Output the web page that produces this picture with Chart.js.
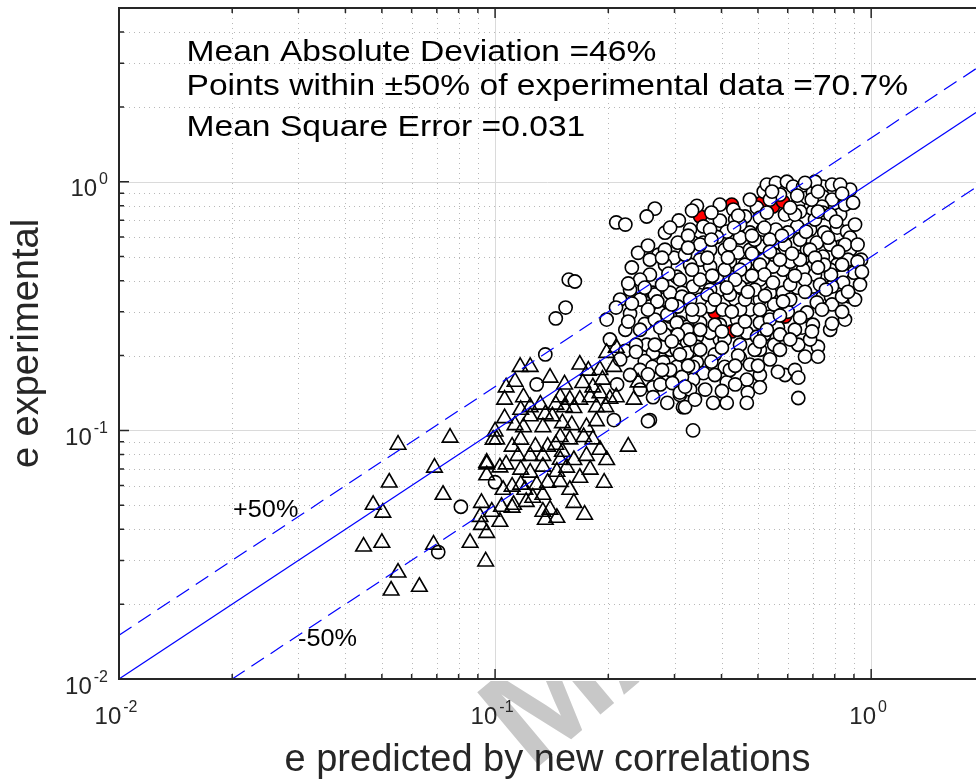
<!DOCTYPE html>
<html>
<head>
<meta charset="utf-8">
<title>e experimental vs e predicted</title>
<script src="https://cdn.jsdelivr.net/npm/chart.js@4.4.1/dist/chart.umd.min.js"></script>
<style>
  html, body { margin: 0; padding: 0; background: #fff; overflow: hidden; }
  canvas { display: block; }
</style>
</head>
<body>
<canvas id="chart" width="976" height="784"></canvas>
<script>
// axis ranges and ticks
const xRange = [0.01, 1.9];
const yRange = [0.01, 5];
const xTickValues = [0.01, 0.1, 1];
const yTickValues = [0.01, 0.1, 1];
const tickExponents = ['-2', '-1', '0'];
const xMinorValues = [0.02, 0.03, 0.04, 0.05, 0.06, 0.07, 0.08, 0.09, 0.2, 0.3, 0.4, 0.5, 0.6, 0.7, 0.8, 0.9];
const yMinorValues = [0.02, 0.03, 0.04, 0.05, 0.06, 0.07, 0.08, 0.09, 0.2, 0.3, 0.4, 0.5, 0.6, 0.7, 0.8, 0.9, 2, 3, 4];

// text
const xTitle = 'e predicted by new correlations';
const yTitle = 'e experimental';
const statsLines = [
  'Mean Absolute Deviation =46%',
  'Points within \u00b150% of experimental data =70.7%',
  'Mean Square Error =0.031',
];
const bandLabels = ['+50%', '-50%'];

// reference lines (e_exp = e_pred, +50%, -50%)
const perfectLine = [[0.01, 0.01], [1.9, 1.9]];
const plusLine = [[0.01, 0.015], [1.9, 2.85]];
const minusLine = [[0.02, 0.01], [1.9, 0.95]];

// [e predicted, e experimental]
const triangles = [
  [0.198, 0.205], [0.21, 0.215], [0.207, 0.18], [0.177, 0.174], [0.193, 0.16], [0.171, 0.155],
  [0.182, 0.149], [0.1166, 0.18], [0.124, 0.18], [0.113, 0.157], [0.107, 0.149], [0.14, 0.163],
  [0.119, 0.136], [0.124, 0.124], [0.132, 0.127], [0.149, 0.136], [0.158, 0.133], [0.168, 0.133],
  [0.179, 0.136], [0.19, 0.141], [0.202, 0.134], [0.21, 0.136], [0.234, 0.133], [0.24, 0.156],
  [0.106, 0.112], [0.1, 0.099], [0.101, 0.092], [0.113, 0.105], [0.119, 0.103], [0.124, 0.114],
  [0.134, 0.103], [0.142, 0.114], [0.151, 0.107], [0.16, 0.105], [0.175, 0.103], [0.186, 0.109],
  [0.149, 0.094], [0.158, 0.092], [0.172, 0.094], [0.182, 0.092], [0.111, 0.086], [0.128, 0.086],
  [0.138, 0.086], [0.134, 0.079], [0.124, 0.079], [0.115, 0.079], [0.151, 0.082], [0.162, 0.076],
  [0.175, 0.079], [0.198, 0.076], [0.226, 0.086], [0.095, 0.073], [0.103, 0.071], [0.095, 0.066],
  [0.107, 0.073], [0.117, 0.0695], [0.124, 0.0676], [0.134, 0.0715], [0.146, 0.0682], [0.155, 0.0708],
  [0.168, 0.0645], [0.149, 0.0621], [0.138, 0.0616], [0.129, 0.0605], [0.117, 0.0605], [0.111, 0.0594],
  [0.105, 0.0577], [0.158, 0.0577], [0.195, 0.0616], [0.134, 0.0551], [0.126, 0.0536], [0.121, 0.0516],
  [0.111, 0.0489], [0.104, 0.0493], [0.098, 0.0471], [0.092, 0.0511], [0.0912, 0.0449], [0.092, 0.0417],
  [0.095, 0.0387], [0.103, 0.0429], [0.112, 0.0502], [0.134, 0.0471], [0.14, 0.048], [0.146, 0.0445],
  [0.136, 0.0437], [0.162, 0.0511], [0.173, 0.0458], [0.0858, 0.0353], [0.0686, 0.0347], [0.0759, 0.0935],
  [0.0552, 0.0876], [0.069, 0.0708], [0.0523, 0.0617], [0.0727, 0.0551], [0.0474, 0.0502], [0.0503, 0.0467],
  [0.0447, 0.0341], [0.05, 0.0353], [0.0552, 0.0268], [0.0529, 0.0227], [0.0629, 0.0235], [0.0944, 0.0297],
  [0.0988, 0.0918], [0.095, 0.0742], [0.145, 0.127], [0.153, 0.124], [0.162, 0.123], [0.186, 0.124],
  [0.197, 0.124], [0.136, 0.116], [0.117, 0.121], [0.106, 0.133], [0.153, 0.153], [0.19, 0.175],
  [0.168, 0.184], [0.145, 0.0876], [0.19, 0.0836], [0.117, 0.0918], [0.12, 0.0577], [0.149, 0.0762],
  [0.179, 0.0695],
];

const openCircles = [
  [0.266, 0.78], [0.344, 0.80], [0.334, 0.766], [0.308, 0.699], [0.283, 0.624], [0.306, 0.569],
  [0.336, 0.569], [0.272, 0.509], [0.299, 0.495], [0.258, 0.423], [0.304, 0.415], [0.358, 0.661],
  [0.396, 0.698], [0.43, 0.773], [0.435, 0.705], [0.462, 0.725], [0.497, 0.787], [0.518, 0.913],
  [0.528, 0.974], [0.558, 0.99], [0.572, 0.888], [0.597, 1.0], [0.62, 0.956], [0.659, 0.956],
  [0.64, 0.824], [0.675, 0.864], [0.70, 0.905], [0.744, 0.956], [0.787, 0.974], [0.744, 0.872],
  [0.787, 0.848], [0.74, 0.795], [0.744, 0.752], [0.70, 0.759], [0.667, 0.705], [0.636, 0.661],
  [0.60, 0.625], [0.558, 0.642], [0.515, 0.642], [0.476, 0.625], [0.448, 0.596], [0.413, 0.63],
  [0.389, 0.60], [0.358, 0.569], [0.351, 0.486], [0.373, 0.456], [0.421, 0.477], [0.443, 0.519],
  [0.476, 0.533], [0.515, 0.548], [0.558, 0.569], [0.59, 0.533], [0.636, 0.50], [0.675, 0.533],
  [0.717, 0.569], [0.75, 0.625], [0.812, 0.654], [0.863, 0.63], [0.879, 0.596], [0.827, 0.548],
  [0.879, 0.533], [0.827, 0.486], [0.868, 0.486], [0.90, 0.431], [0.837, 0.431], [0.812, 0.464],
  [0.744, 0.50], [0.70, 0.456], [0.659, 0.443], [0.62, 0.415], [0.583, 0.443], [0.548, 0.456],
  [0.515, 0.486], [0.497, 0.443], [0.467, 0.415], [0.448, 0.379], [0.421, 0.415], [0.389, 0.415],
  [0.358, 0.393], [0.336, 0.379], [0.314, 0.358], [0.296, 0.345], [0.28, 0.336], [0.263, 0.358],
  [0.258, 0.315], [0.275, 0.298], [0.292, 0.287], [0.31, 0.271], [0.324, 0.261], [0.351, 0.271],
  [0.373, 0.315], [0.403, 0.306], [0.44, 0.279], [0.476, 0.306], [0.506, 0.336], [0.538, 0.358],
  [0.583, 0.358], [0.636, 0.375], [0.70, 0.379], [0.744, 0.345], [0.782, 0.345], [0.879, 0.345],
  [0.842, 0.393], [0.787, 0.379], [0.717, 0.327], [0.675, 0.298], [0.60, 0.30], [0.565, 0.259],
  [0.538, 0.287], [0.506, 0.271], [0.467, 0.247], [0.44, 0.254], [0.396, 0.232], [0.373, 0.247],
  [0.344, 0.238], [0.324, 0.225], [0.292, 0.211], [0.263, 0.198], [0.28, 0.188], [0.304, 0.18],
  [0.289, 0.16], [0.263, 0.149], [0.287, 0.129], [0.316, 0.124], [0.31, 0.139], [0.344, 0.188],
  [0.358, 0.17], [0.336, 0.16], [0.38, 0.129], [0.413, 0.129], [0.413, 0.156], [0.408, 0.18],
  [0.448, 0.195], [0.476, 0.184], [0.467, 0.16], [0.47, 0.142], [0.467, 0.129], [0.497, 0.238],
  [0.336, 0.1], [0.258, 0.11], [0.64, 0.221], [0.667, 0.198], [0.722, 0.217], [0.722, 0.198],
  [0.59, 0.167], [0.627, 0.175], [0.64, 0.163], [0.64, 0.135], [0.655, 0.259], [0.70, 0.266],
  [0.787, 0.321], [0.837, 0.345], [0.21, 0.686], [0.222, 0.673], [0.253, 0.725], [0.24, 0.518],
  [0.157, 0.404], [0.163, 0.397], [0.154, 0.312], [0.145, 0.282], [0.2285, 0.295], [0.25, 0.268],
  [0.266, 0.352], [0.27, 0.33], [0.136, 0.202], [0.222, 0.209], [0.129, 0.153], [0.211, 0.153],
  [0.253, 0.221], [0.263, 0.205], [0.25, 0.19], [0.262, 0.18], [0.243, 0.175], [0.275, 0.153],
  [0.263, 0.136], [0.32, 0.124], [0.255, 0.109], [0.207, 0.11], [0.287, 0.292], [0.304, 0.271],
  [0.324, 0.254], [0.336, 0.287], [0.296, 0.238], [0.28, 0.217], [0.304, 0.211], [0.324, 0.205],
  [0.344, 0.217], [0.336, 0.18], [0.314, 0.164], [0.296, 0.155], [0.31, 0.142], [0.33, 0.146],
  [0.292, 0.358], [0.314, 0.345], [0.306, 0.315], [0.1, 0.0619], [0.0811, 0.0493], [0.0706, 0.0324],
  [0.506, 0.404], [0.609, 0.477], [0.709, 0.423], [0.778, 0.443], [0.396, 0.368], [0.435, 0.336],
  [0.351, 0.336], [0.538, 0.585], [0.647, 0.585], [0.688, 0.642], [0.59, 0.738], [0.506, 0.718],
  [0.462, 0.464], [0.408, 0.533], [0.33, 0.464], [0.31, 0.404], [0.283, 0.464], [0.373, 0.533],
  [0.49, 0.368], [0.609, 0.336], [0.396, 0.266], [0.448, 0.306], [0.552, 0.221], [0.506, 0.211],
  [0.384, 0.202], [0.421, 0.175], [0.33, 0.232], [0.695, 0.848], [0.647, 0.759], [0.52, 0.654],
  [0.827, 0.738], [0.852, 0.559], [0.778, 0.559], [0.552, 0.509], [0.506, 0.464],
  [0.538, 0.279], [0.572, 0.243], [0.627, 0.254], [0.688, 0.232], [0.778, 0.254], [0.852, 0.279],
  [0.906, 0.336], [0.934, 0.386], [0.94, 0.486], [0.92, 0.559], [0.906, 0.673], [0.852, 0.809],
  [0.879, 0.93], [0.827, 0.974], [0.709, 1.0], [0.667, 0.99], [0.538, 0.848], [0.476, 0.848],
  [0.396, 0.809], [0.373, 0.642], [0.33, 0.642], [0.283, 0.533], [0.258, 0.486], [0.243, 0.404],
  [0.2285, 0.368], [0.215, 0.336], [0.243, 0.336], [0.222, 0.254], [0.202, 0.232], [0.198, 0.279],
  [0.237, 0.221], [0.215, 0.193], [0.2285, 0.167], [0.243, 0.146], [0.373, 0.368], [0.421, 0.352],
  [0.462, 0.336], [0.552, 0.321], [0.609, 0.386], [0.667, 0.404], [0.731, 0.386], [0.782, 0.423],
  [0.75, 0.464], [0.647, 0.486], [0.572, 0.486], [0.52, 0.423], [0.448, 0.443], [0.408, 0.443],
  [0.351, 0.404], [0.33, 0.336], [0.351, 0.306], [0.384, 0.266], [0.408, 0.232], [0.448, 0.221],
  [0.52, 0.243], [0.49, 0.211], [0.538, 0.193], [0.506, 0.167], [0.435, 0.153], [0.362, 0.146],
  [0.34, 0.133], [0.384, 0.167], [0.31, 0.202], [0.283, 0.243], [0.266, 0.279], [0.292, 0.175],
  [0.59, 0.559], [0.688, 0.533], [0.627, 0.738], [0.709, 0.705], [0.778, 0.738], [0.448, 0.673],
  [0.49, 0.585], [0.421, 0.559], [0.351, 0.559], [0.32, 0.509],
  [0.545, 0.913], [0.636, 0.88], [0.722, 0.913], [0.837, 0.896], [0.895, 0.824],
  [0.376, 0.752], [0.443, 0.731], [0.528, 0.752], [0.609, 0.787], [0.722, 0.759], [0.807, 0.692],
  [0.292, 0.654], [0.326, 0.607], [0.376, 0.585], [0.432, 0.654], [0.482, 0.607], [0.579, 0.607],
  [0.671, 0.63], [0.768, 0.596], [0.255, 0.554], [0.278, 0.495], [0.326, 0.543], [0.367, 0.495],
  [0.416, 0.495], [0.482, 0.514], [0.538, 0.523], [0.616, 0.514], [0.709, 0.495], [0.817, 0.523],
  [0.92, 0.477], [0.231, 0.452], [0.289, 0.427], [0.334, 0.443], [0.378, 0.419], [0.435, 0.404],
  [0.482, 0.419], [0.548, 0.393], [0.627, 0.419], [0.722, 0.452], [0.837, 0.464], [0.945, 0.434],
  [0.226, 0.39], [0.25, 0.375], [0.278, 0.386], [0.367, 0.352], [0.413, 0.375], [0.47, 0.361],
  [0.522, 0.348], [0.583, 0.33], [0.667, 0.361], [0.758, 0.368], [0.868, 0.361], [0.2097, 0.312],
  [0.231, 0.324], [0.255, 0.306], [0.295, 0.321], [0.334, 0.306], [0.384, 0.336], [0.426, 0.30],
  [0.506, 0.306], [0.572, 0.29], [0.647, 0.284], [0.74, 0.306], [0.837, 0.30], [0.226, 0.274],
  [0.243, 0.254], [0.275, 0.259], [0.306, 0.243], [0.351, 0.254], [0.401, 0.25], [0.462, 0.274],
  [0.528, 0.254], [0.609, 0.232], [0.696, 0.25], [0.787, 0.269], [0.237, 0.207], [0.266, 0.221],
  [0.295, 0.228], [0.351, 0.211], [0.401, 0.215], [0.443, 0.20], [0.506, 0.228], [0.572, 0.211],
  [0.255, 0.168], [0.278, 0.175], [0.326, 0.182], [0.376, 0.189], [0.435, 0.182], [0.5, 0.182],
  [0.565, 0.172], [0.32, 0.15], [0.401, 0.144], [0.506, 0.149],
];

const redCircles = [
  [0.59, 0.287], [0.351, 0.725], [0.426, 0.809], [0.512, 0.824], [0.548, 0.795],
  [0.583, 0.832], [0.426, 0.25], [0.384, 0.298],
];

const fontFamily = '"Liberation Sans", Arial, Helvetica, sans-serif';
const axisColor = '#262626';

const toPoints = (rows) => rows.map(([x, y]) => ({ x, y }));

function stretchText(ctx, text, x, y, sx) {
  ctx.save();
  ctx.translate(x, y);
  ctx.scale(sx, 1);
  ctx.fillText(text, 0, 0);
  ctx.restore();
}

function drawPower(ctx, exp, anchorX, baseY, align) {
  ctx.font = `24px ${fontFamily}`;
  const wBase = ctx.measureText('10').width;
  ctx.font = `16px ${fontFamily}`;
  const wExp = ctx.measureText(exp).width;
  const total = wBase + 2 + wExp;
  const left = align === 'center' ? anchorX - total / 2 - 3 : anchorX - total;
  ctx.font = `24px ${fontFamily}`;
  ctx.fillText('10', left, baseY);
  ctx.font = `16px ${fontFamily}`;
  ctx.fillText(exp, left + wBase + 2, baseY - 12);
}

const matlabAxes = {
  id: 'matlabAxes',
  beforeDraw(chart) {
    // faint journal watermark below the axes
    const { ctx, chartArea: a } = chart;
    ctx.save();
    ctx.beginPath();
    ctx.rect(0, a.bottom + 2, chart.width, chart.height);
    ctx.clip();
    ctx.translate(532, 772);
    ctx.rotate(-40 * Math.PI / 180);
    ctx.font = `bold 140px ${fontFamily}`;
    ctx.fillStyle = '#c8c8c8';
    ctx.fillText('MA', 0, 0);
    ctx.restore();
  },
  beforeDatasetsDraw(chart) {
    const { ctx, chartArea: a, scales: { x, y } } = chart;
    ctx.save();
    ctx.lineWidth = 1;
    ctx.strokeStyle = '#b8b8b8';
    ctx.setLineDash([1, 4]);
    ctx.beginPath();
    xMinorValues.forEach((v) => {
      const px = Math.round(x.getPixelForValue(v)) + 0.5;
      ctx.moveTo(px, a.top);
      ctx.lineTo(px, a.bottom);
    });
    yMinorValues.forEach((v) => {
      const py = Math.round(y.getPixelForValue(v)) + 0.5;
      ctx.moveTo(a.left, py);
      ctx.lineTo(a.right, py);
    });
    ctx.stroke();
    ctx.setLineDash([]);
    ctx.strokeStyle = '#dadada';
    ctx.beginPath();
    xTickValues.forEach((v) => {
      const px = Math.round(x.getPixelForValue(v)) + 0.5;
      ctx.moveTo(px, a.top);
      ctx.lineTo(px, a.bottom);
    });
    yTickValues.forEach((v) => {
      const py = Math.round(y.getPixelForValue(v)) + 0.5;
      ctx.moveTo(a.left, py);
      ctx.lineTo(a.right, py);
    });
    ctx.stroke();
    ctx.restore();
  },
  afterDatasetsDraw(chart) {
    const { ctx, chartArea: a, scales: { x, y } } = chart;
    ctx.save();
    ctx.strokeStyle = axisColor;
    ctx.lineWidth = 1.5;
    ctx.beginPath();
    const xTick = (v, len) => {
      const px = x.getPixelForValue(v);
      ctx.moveTo(px, a.bottom);
      ctx.lineTo(px, a.bottom - len);
      ctx.moveTo(px, a.top);
      ctx.lineTo(px, a.top + len);
    };
    const yTick = (v, len) => {
      const py = y.getPixelForValue(v);
      ctx.moveTo(a.left, py);
      ctx.lineTo(a.left + len, py);
    };
    xTickValues.forEach((v) => xTick(v, 10));
    xMinorValues.forEach((v) => xTick(v, 5));
    yTickValues.forEach((v) => yTick(v, 10));
    yMinorValues.forEach((v) => yTick(v, 5));
    ctx.stroke();

    ctx.lineWidth = 2;
    ctx.beginPath();
    ctx.moveTo(a.right, a.top);
    ctx.lineTo(a.left, a.top);
    ctx.lineTo(a.left, a.bottom);
    ctx.lineTo(a.right, a.bottom);
    ctx.stroke();

    // tick labels 10^n
    ctx.fillStyle = axisColor;
    ctx.textBaseline = 'alphabetic';
    ctx.textAlign = 'left';
    xTickValues.forEach((v, i) => {
      drawPower(ctx, tickExponents[i], x.getPixelForValue(v), a.bottom + 45, 'center');
    });
    yTickValues.forEach((v, i) => {
      drawPower(ctx, tickExponents[i], a.left - 11, y.getPixelForValue(v) + 14.5, 'right');
    });

    // statistics and band labels
    ctx.fillStyle = '#000';
    ctx.font = `30px ${fontFamily}`;
    const statBase = [61, 95, 136];
    statsLines.forEach((t, i) => stretchText(ctx, t, 186.5, statBase[i], 1.12));
    ctx.font = `23px ${fontFamily}`;
    stretchText(ctx, bandLabels[0], 233, 517, 1.1);
    stretchText(ctx, bandLabels[1], 298, 646, 1.1);
    ctx.restore();
  },
};

const refLine = (rows, dash) => ({
  data: toPoints(rows),
  showLine: true,
  borderColor: '#0000ff',
  borderWidth: 1.2,
  borderDash: dash,
  pointRadius: 0,
  fill: false,
});

new Chart(document.getElementById('chart'), {
  type: 'scatter',
  data: {
    datasets: [
      refLine(perfectLine, []),
      refLine(plusLine, [15, 8]),
      refLine(minusLine, [15, 8]),
      {
        data: toPoints(triangles),
        pointStyle: 'triangle',
        pointRadius: 9,
        borderWidth: 1.6,
        borderColor: '#000',
        backgroundColor: 'rgba(0,0,0,0)',
      },
      {
        data: toPoints(openCircles),
        pointStyle: 'circle',
        pointRadius: 6.6,
        borderWidth: 1.6,
        borderColor: '#000',
        backgroundColor: '#fff',
      },
      {
        data: toPoints(redCircles),
        pointStyle: 'circle',
        pointRadius: 6.6,
        borderWidth: 1.6,
        borderColor: '#000',
        backgroundColor: '#ff0000',
      },
    ],
  },
  options: {
    responsive: false,
    animation: false,
    events: [],
    layout: { autoPadding: false, padding: { top: 8, right: 0, bottom: 0, left: 0 } },
    plugins: { legend: { display: false }, tooltip: { enabled: false } },
    scales: {
      x: {
        type: 'logarithmic',
        min: xRange[0],
        max: xRange[1],
        grid: { display: false },
        border: { display: false },
        ticks: { display: false },
        title: {
          display: true,
          text: xTitle,
          color: axisColor,
          font: { family: fontFamily, size: 38 },
          padding: { top: 0, bottom: 1 },
        },
        afterFit(scale) { scale.height = 105; },
      },
      y: {
        type: 'logarithmic',
        min: yRange[0],
        max: yRange[1],
        grid: { display: false },
        border: { display: false },
        ticks: { display: false },
        title: {
          display: true,
          text: yTitle,
          color: axisColor,
          font: { family: fontFamily, size: 38 },
          padding: { top: 5, bottom: 0 },
        },
        afterFit(scale) { scale.width = 119; },
      },
    },
  },
  plugins: [matlabAxes],
});
</script>
</body>
</html>
